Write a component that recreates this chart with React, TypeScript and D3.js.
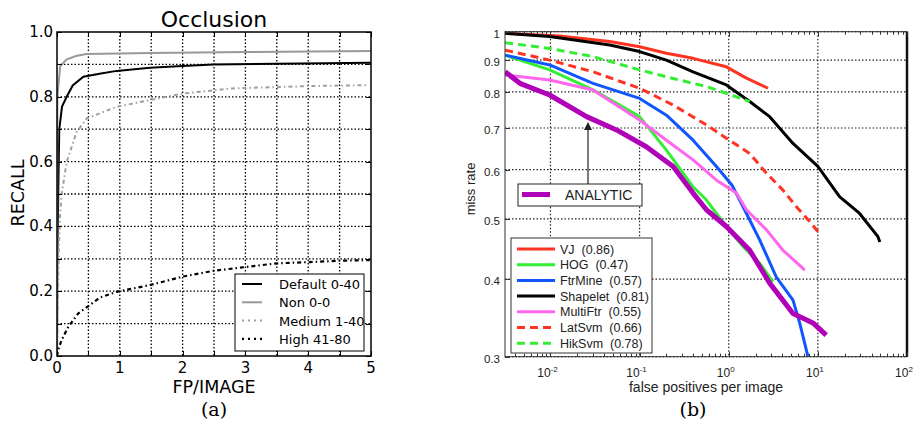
import React from "react";
import * as d3 from "d3";

type P = [number, number];

// ---------- Left chart (a) data: [FP/IMAGE, RECALL] ----------
const defaultSeries: P[] = [[0, 0], [0.005, 0.3], [0.02, 0.5], [0.036, 0.7], [0.08, 0.77], [0.154, 0.8], [0.25, 0.835], [0.42, 0.862], [0.7, 0.872], [0.95, 0.88], [1.48, 0.89], [2.0, 0.895], [2.49, 0.9], [3.5, 0.902], [5, 0.905]];
const nonSeries: P[] = [[0, 0], [0.003, 0.5], [0.006, 0.8], [0.05, 0.894], [0.15, 0.915], [0.3, 0.926], [0.47, 0.932], [1.48, 0.935], [3, 0.938], [5, 0.941]];
const mediumSeries: P[] = [[0, 0], [0.01, 0.15], [0.03, 0.33], [0.05, 0.44], [0.075, 0.5], [0.155, 0.6], [0.31, 0.69], [0.47, 0.733], [0.95, 0.769], [1.48, 0.79], [2.0, 0.81], [2.8, 0.826], [4.0, 0.833], [4.95, 0.836]];
const highSeries: P[] = [[0, 0.0], [0.02, 0.02], [0.075, 0.05], [0.18, 0.09], [0.34, 0.132], [0.5, 0.154], [0.68, 0.18], [0.95, 0.198], [1.48, 0.219], [2.0, 0.245], [2.49, 0.263], [3.02, 0.275], [3.5, 0.286], [4.03, 0.29], [4.5, 0.294], [4.98, 0.296]];
const leftXTicks = [0, 1, 2, 3, 4, 5];
const leftYTicks = [0, 0.2, 0.4, 0.6, 0.8, 1.0];
const leftLegend = ["Default 0-40", "Non 0-0", "Medium 1-40", "High 41-80"];

// ---------- Right chart (b) data: [false positives per image, miss rate] ----------
const vj: P[] = [[0.0031, 0.994], [0.0127, 0.984], [0.0463, 0.964], [0.1, 0.946], [0.2, 0.923], [0.398, 0.906], [0.94, 0.878], [1.58, 0.842], [2.76, 0.811]];
const hog: P[] = [[0.0031, 0.917], [0.0098, 0.868], [0.03, 0.806], [0.1, 0.73], [0.2, 0.645], [0.398, 0.563], [0.562, 0.536], [0.94, 0.486], [1.45, 0.451], [2.23, 0.424], [3.14, 0.396]];
const ftrMine: P[] = [[0.0031, 0.917], [0.0098, 0.884], [0.03, 0.826], [0.1, 0.781], [0.2, 0.734], [0.398, 0.669], [0.728, 0.607], [1.1, 0.565], [1.58, 0.51], [2.23, 0.462], [3.42, 0.403], [5.26, 0.37], [6.25, 0.34], [7.74, 0.3]];
const shapelet: P[] = [[0.0031, 0.994], [0.0098, 0.982], [0.0463, 0.952], [0.1, 0.929], [0.2, 0.9], [0.398, 0.862], [0.94, 0.821], [1.72, 0.772], [2.88, 0.73], [5.26, 0.661], [10, 0.607], [17.5, 0.543], [29.4, 0.51], [47.2, 0.468], [49.6, 0.459]];
const multiFtr: P[] = [[0.0031, 0.852], [0.0098, 0.836], [0.03, 0.806], [0.1, 0.721], [0.2, 0.669], [0.398, 0.622], [0.728, 0.577], [1.22, 0.55], [1.58, 0.517], [2.65, 0.48], [4.06, 0.445], [6.81, 0.416], [7.1, 0.413]];
const latSvm: P[] = [[0.0031, 0.934], [0.0098, 0.9], [0.03, 0.862], [0.1, 0.811], [0.238, 0.762], [0.562, 0.708], [0.94, 0.674], [1.72, 0.637], [2.65, 0.592], [4.06, 0.556], [5.74, 0.523], [8.09, 0.495], [10, 0.477]];
const hikSvm: P[] = [[0.0031, 0.96], [0.0098, 0.94], [0.03, 0.912], [0.1, 0.868], [0.238, 0.841], [0.562, 0.816], [0.94, 0.796], [1.72, 0.772]];
const analytic: P[] = [[0.0031, 0.862], [0.00454, 0.826], [0.0098, 0.791], [0.0254, 0.73], [0.0551, 0.695], [0.119, 0.653], [0.238, 0.607], [0.398, 0.55], [0.562, 0.517], [0.94, 0.486], [1.72, 0.445], [2.88, 0.394], [5.26, 0.352], [8.81, 0.34], [12.4, 0.325]];
const rightYTicks = [0.3, 0.4, 0.5, 0.6, 0.7, 0.8, 0.9, 1];
const rightXTickExps = [-2, -1, 0, 1, 2];
const rightLegend = ["VJ  (0.86)", "HOG  (0.47)", "FtrMine  (0.57)", "Shapelet  (0.81)", "MultiFtr  (0.55)", "LatSvm  (0.66)", "HikSvm  (0.78)"];

const RED = "#ff3322";
const GREEN = "#33ee33";
const BLUE = "#1155ff";
const PINK = "#ff66ee";
const PURPLE = "#b000b8";

export default function App() {
  // Left scales
  const lx = d3.scaleLinear().domain([0, 5]).range([57, 371]);
  const ly = d3.scaleLinear().domain([0, 1]).range([356, 32]);
  const lline = d3.line<P>().x(d => lx(d[0])).y(d => ly(d[1]));
  const lf = "DejaVu Sans, sans-serif";

  // Right scales
  const rx = d3.scaleLog().domain([Math.pow(10, -2.51), 100]).range([505, 907]);
  const ry = d3.scaleLog().domain([0.3, 1]).range([356.7, 31.7]);
  const rline = d3.line<P>().x(d => rx(d[0])).y(d => ry(d[1]));
  const rf = "Liberation Sans, Arial, sans-serif";

  const leftGridX = d3.range(0.5, 5, 0.5);
  const leftGridY = d3.range(0.1, 1.0, 0.1);
  const minorX: number[] = [];
  for (let e = -3; e <= 1; e++) for (let m = 2; m <= 9; m++) {
    const v = m * Math.pow(10, e);
    if (v > rx.domain()[0] && v < 100) minorX.push(v);
  }
  const px = (v: number) => Math.round(v) + 0.5;

  const leftStyles = [
    { data: defaultSeries, stroke: "#000", w: 2, dash: undefined as string | undefined },
    { data: nonSeries, stroke: "#999", w: 2, dash: undefined },
    { data: mediumSeries, stroke: "#a0a0a0", w: 2, dash: "4,3,1.5,3" },
    { data: highSeries, stroke: "#000", w: 2.2, dash: "4,3,1.5,3" },
  ];
  const rightStyles = [
    { data: vj, stroke: RED, dash: undefined as string | undefined },
    { data: hog, stroke: GREEN, dash: undefined },
    { data: ftrMine, stroke: BLUE, dash: undefined },
    { data: shapelet, stroke: "#000", dash: undefined },
    { data: multiFtr, stroke: PINK, dash: undefined },
    { data: latSvm, stroke: RED, dash: "8,5" },
    { data: hikSvm, stroke: GREEN, dash: "8,5" },
  ];
  const [rx0, rx1] = rx.range();
  const [ry0, ry1] = ry.range();

  return (
    <svg width={916} height={435} style={{ position: "absolute", left: 0, top: 0, background: "#fff" }}>
      <rect width={916} height={435} fill="#fff" />
      <defs>
        <clipPath id="lclip"><rect x={57} y={32} width={314} height={324} /></clipPath>
        <clipPath id="rclip"><rect x={rx0} y={ry1} width={rx1 - rx0} height={ry0 - ry1} /></clipPath>
      </defs>
      {/* ===== Left chart ===== */}
      <text x={214} y={27} textAnchor="middle" fontFamily={lf} fontSize={22}>Occlusion</text>
      <g stroke="#000" strokeWidth={1.3} strokeDasharray="1.5,2" fill="none">
        {leftGridX.map(v => (
          <line key={"lgx" + v} x1={lx(v)} x2={lx(v)} y1={32} y2={356} />
        ))}
        {leftGridY.map(v => (
          <line key={"lgy" + v} x1={57} x2={371} y1={ly(v)} y2={ly(v)} />
        ))}
      </g>
      <g clipPath="url(#lclip)">
        {leftStyles.map((s, i) => (
          <path key={"ls" + i} d={lline(s.data) || ""} fill="none" stroke={s.stroke} strokeWidth={s.w} strokeDasharray={s.dash} />
        ))}
      </g>
      <rect x={57} y={32} width={314} height={324} fill="none" stroke="#000" strokeWidth={1.5} />
      {d3.range(0, 5.01, 0.5).map(v => (
        <g key={"ltx" + v}>
          <line x1={px(lx(v))} x2={px(lx(v))} y1={356} y2={351} stroke="#000" />
          <line x1={px(lx(v))} x2={px(lx(v))} y1={32} y2={37} stroke="#000" />
        </g>
      ))}
      {d3.range(0, 1.01, 0.1).map(v => (
        <g key={"lty" + v}>
          <line x1={57} x2={62} y1={px(ly(v))} y2={px(ly(v))} stroke="#000" />
          <line x1={371} x2={366} y1={px(ly(v))} y2={px(ly(v))} stroke="#000" />
        </g>
      ))}
      {leftXTicks.map(v => (
        <text key={"lxl" + v} x={lx(v)} y={373} textAnchor="middle" fontFamily={lf} fontSize={15}>{v}</text>
      ))}
      {leftYTicks.map(v => (
        <text key={"lyl" + v} x={53} y={ly(v) + 5} textAnchor="end" fontFamily={lf} fontSize={15}>{v.toFixed(1)}</text>
      ))}
      <text x={214} y={393} textAnchor="middle" fontFamily={lf} fontSize={17.5}>FP/IMAGE</text>
      <text transform="translate(24,193) rotate(-90)" textAnchor="middle" fontFamily={lf} fontSize={17.5}>RECALL</text>
      <rect x={235} y={274} width={129} height={77} fill="#fff" stroke="#000" strokeWidth={1} />
      {leftLegend.map((t, i) => {
        const y = 284 + i * 18.3;
        const s = leftStyles[i];
        return (
          <g key={"ll" + i}>
            <line x1={242} x2={262} y1={y} y2={y} stroke={s.stroke} strokeWidth={s.w} strokeDasharray={s.dash ? "2,4,2,4" : undefined} />
            <text x={279} y={y + 5} fontFamily={lf} fontSize={13}>{t}</text>
          </g>
        );
      })}
      <text x={214} y={416} textAnchor="middle" fontFamily="DejaVu Serif, serif" fontSize={19}>(a)</text>

      {/* ===== Right chart ===== */}
      <g stroke="#222" strokeWidth={1.2} strokeDasharray="1.5,2" fill="none">
        {rightXTickExps.map(e => (
          <line key={"rgx" + e} x1={rx(Math.pow(10, e))} x2={rx(Math.pow(10, e))} y1={ry1} y2={ry0} />
        ))}
        {rightYTicks.map(v => (
          <line key={"rgy" + v} x1={rx0} x2={rx1} y1={ry(v)} y2={ry(v)} />
        ))}
      </g>
      <g clipPath="url(#rclip)">
        {rightStyles.map((s, i) => (
          <path key={"rs" + i} d={rline(s.data) || ""} fill="none" stroke={s.stroke} strokeWidth={3} strokeDasharray={s.dash} strokeLinejoin="round" />
        ))}
        <path d={rline(analytic) || ""} fill="none" stroke={PURPLE} strokeWidth={5} strokeLinejoin="round" />
      </g>
      <rect x={rx0} y={ry1} width={rx1 - rx0} height={ry0 - ry1} fill="none" stroke="#333" strokeWidth={1} />
      <line x1={rx1} x2={rx1} y1={ry1} y2={ry0} stroke="#111" strokeWidth={2.5} />
      {minorX.map((v, i) => (
        <g key={"rmx" + i}>
          <line x1={px(rx(v))} x2={px(rx(v))} y1={ry0} y2={ry0 - 3} stroke="#333" />
          <line x1={px(rx(v))} x2={px(rx(v))} y1={ry1} y2={ry1 + 3} stroke="#333" />
        </g>
      ))}
      {rightXTickExps.map(e => (
        <g key={"rtx" + e}>
          <line x1={px(rx(Math.pow(10, e)))} x2={px(rx(Math.pow(10, e)))} y1={ry0} y2={ry0 - 5} stroke="#333" />
          <line x1={px(rx(Math.pow(10, e)))} x2={px(rx(Math.pow(10, e)))} y1={ry1} y2={ry1 + 5} stroke="#333" />
          <text x={rx(Math.pow(10, e)) - 3} y={377} textAnchor="middle" fontFamily={rf} fontSize={12} fill="#222">
            10<tspan dy={-5} fontSize={8}>{e}</tspan>
          </text>
        </g>
      ))}
      {rightYTicks.map(v => (
        <g key={"rty" + v}>
          <line x1={rx0} x2={rx0 + 5} y1={px(ry(v))} y2={px(ry(v))} stroke="#333" />
          <text x={rx0 - 5} y={ry(v) + 6} textAnchor="end" fontFamily={rf} fontSize={11.5} fill="#222">{String(v)}</text>
        </g>
      ))}
      <text x={706} y={392} textAnchor="middle" fontFamily={rf} fontSize={14} fill="#222">false positives per image</text>
      <text transform="translate(475,189) rotate(-90)" textAnchor="middle" fontFamily={rf} fontSize={13} fill="#222">miss rate</text>
      {/* legend */}
      <rect x={511} y={238} width={141} height={115} fill="#fff" stroke="#333" strokeWidth={1} />
      {rightLegend.map((t, i) => {
        const y = 249 + i * 15.7;
        const s = rightStyles[i];
        return (
          <g key={"rl" + i}>
            <line x1={517} x2={555} y1={y} y2={y} stroke={s.stroke} strokeWidth={3} strokeDasharray={s.dash} />
            <text x={560} y={y + 4.5} fontFamily={rf} fontSize={12.5} fill="#222" style={{ whiteSpace: "pre" }}>{t}</text>
          </g>
        );
      })}
      {/* ANALYTIC annotation */}
      <rect x={518} y={184} width={124} height={22} fill="#fff" stroke="#222" strokeWidth={1} />
      <line x1={522} x2={550} y1={194.5} y2={194.5} stroke={PURPLE} strokeWidth={5} />
      <text x={565} y={200} fontFamily={rf} fontSize={14} fill="#222">ANALYTIC</text>
      <line x1={588} x2={588} y1={184} y2={128} stroke="#222" strokeWidth={1.2} />
      <path d="M584,130 L588,122 L592,130 Z" fill="#222" />
      <text x={693} y={416} textAnchor="middle" fontFamily="DejaVu Serif, serif" fontSize={19}>(b)</text>
    </svg>
  );
}
